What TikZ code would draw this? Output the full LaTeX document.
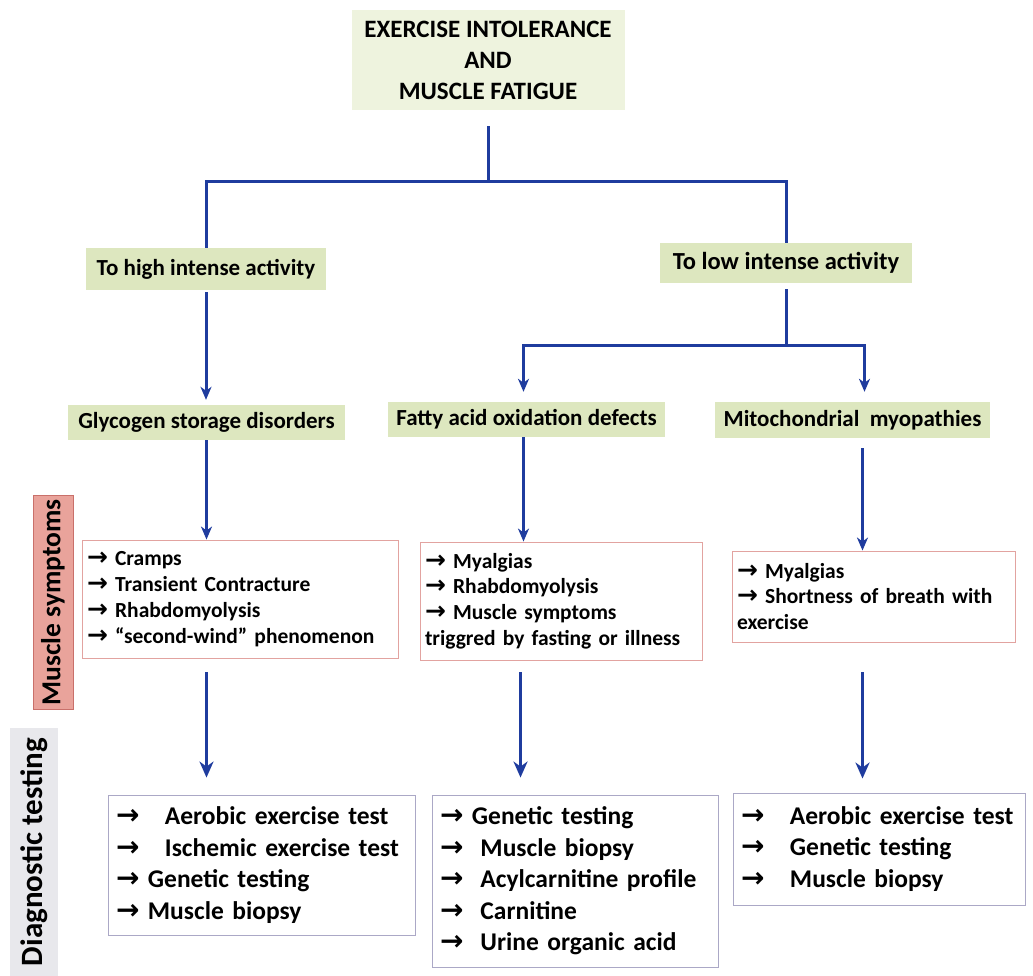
\documentclass[tikz,border=0pt]{standalone}
\usepackage{fontspec}
\setmainfont{Carlito}
\newfontfamily\arrowfont{DejaVu Sans}
\usetikzlibrary{arrows.meta, positioning}
\definecolor{flowblue}{HTML}{1F3C9E}
\definecolor{headgreen}{HTML}{EEF3DE}
\definecolor{levelgreen}{HTML}{DDE7BF}
\definecolor{symred}{HTML}{E2A3A0}
\definecolor{diaggray}{HTML}{ABA8C6}
\definecolor{muscfill}{HTML}{E9A39B}
\definecolor{muscdraw}{HTML}{C9706A}
\definecolor{testfill}{HTML}{E8E8EC}
\newcommand{\symarr}{{\arrowfont\bfseries\fontsize{25}{25}\selectfont →}\ }
\newcommand{\diagarr}{{\arrowfont\fontsize{28}{28}\selectfont →}\ }
\tikzset{
  blk/.style={rectangle, inner sep=4pt, font=\bfseries},
  headb/.style={blk, fill=headgreen, align=center, minimum width=273pt,
                minimum height=100pt, font=\bfseries\fontsize{25}{31}\selectfont},
  levelb/.style={blk, fill=levelgreen, align=center, font=\bfseries\fontsize{23}{25}\selectfont},
  symb/.style={blk, draw=symred, line width=0.9pt, fill=white, align=left,
               inner xsep=5pt, font=\bfseries\fontsize{21.5}{25.8}\selectfont},
  diagb/.style={blk, draw=diaggray, line width=0.9pt, fill=white, align=left,
                inner xsep=8pt, font=\bfseries\fontsize{25.5}{31.5}\selectfont},
  sideb/.style={blk, rotate=90, align=center},
  conn/.style={line width=3pt, draw=flowblue},
  arr/.style={conn, -{Stealth[length=13pt, width=11pt, inset=4pt]}},
  bigarr/.style={line width=3.4pt, draw=flowblue, -{Stealth[length=16pt, width=14pt, inset=5pt]}},
}
\begin{document}
\begin{tikzpicture}[x=1pt, y=-1pt]
  \useasboundingbox (0,0) rectangle (1033,976);
  % headline and the two branches
  \node[headb] (top) at (488,60) {EXERCISE INTOLERANCE\\AND\\MUSCLE FATIGUE};
  \node[levelb, minimum width=240pt, minimum height=42pt] (high) at (206,269) {To high intense activity};
  \node[levelb, minimum width=252pt, minimum height=40pt, font=\bfseries\fontsize{24.5}{26}\selectfont] (low) at (786,263) {To low intense activity};
  % disorder groups
  \node[levelb, minimum width=277pt, minimum height=35pt] (glyco) at (206.5,422.5) {Glycogen storage disorders};
  \node[levelb, minimum width=277pt, minimum height=35pt] (fatty) at (526.5,419.5) {Fatty acid oxidation defects};
  \node[levelb, minimum width=275pt, minimum height=36pt] (mito) at (852.5,420) {Mitochondrial\ \ myopathies};
  % muscle symptoms
  \node[symb, text width=306pt, minimum height=118pt] (symL) at (240,599)
    {\symarr Cramps\\\symarr Transient Contracture\\\symarr Rhabdomyolysis\\\symarr “second-wind” phenomenon};
  \node[symb, text width=272pt, minimum height=118pt] (symM) at (561,601)
    {\symarr Myalgias\\\symarr Rhabdomyolysis\\\symarr Muscle symptoms\\triggred by fasting or illness};
  \node[symb, text width=273pt, minimum height=91pt] (symR) at (873.5,596.5)
    {\symarr Myalgias\\\symarr Shortness of breath with\\exercise};
  % diagnostic testing
  \node[diagb, text width=291pt, minimum height=140pt] (diagL) at (261.5,865)
    {\diagarr\ \ Aerobic exercise test\\\diagarr\ \ Ischemic exercise test\\\diagarr Genetic testing\\\diagarr Muscle biopsy};
  \node[diagb, text width=270pt, minimum height=172pt] (diagM) at (575,881)
    {\diagarr Genetic testing\\\diagarr\ Muscle biopsy\\\diagarr\ Acylcarnitine profile\\\diagarr\ Carnitine\\\diagarr\ Urine organic acid};
  \node[diagb, text width=276pt, minimum height=112pt] (diagR) at (879,849)
    {\diagarr\ \ Aerobic exercise test\\\diagarr\ \ Genetic testing\\\diagarr\ \ Muscle biopsy};
  % row labels
  \node[sideb, fill=muscfill, draw=muscdraw, line width=0.6pt, minimum width=211pt, minimum height=40pt,
        font=\bfseries\fontsize{27.5}{29}\selectfont] (musc) at (53,602.5) {Muscle symptoms};
  \node[sideb, fill=testfill, minimum width=248pt, minimum height=48pt,
        font=\bfseries\fontsize{31}{33}\selectfont] (tests) at (34,852) {Diagnostic testing};
  % connectors
  \coordinate (split1) at (488,182);
  \coordinate (split2) at (786,345);
  \draw[conn, shorten <=16pt] (top.south) -- (split1);
  \draw[conn] (split1) -| (high.north);
  \draw[conn] (split1) -| (low.north);
  \draw[arr, shorten <=2pt, shorten >=5pt] (high.south) -- (high.south |- glyco.north);
  \draw[conn, shorten <=6pt] (low.south) -- (split2);
  \draw[arr, shorten >=10pt] (split2) -| ([xshift=-3pt]fatty.north);
  \draw[arr, shorten >=10pt] (split2) -| ([xshift=12pt]mito.north);
  \draw[arr] (glyco.south) -- (glyco.south |- symL.north);
  \draw[arr] ([xshift=-3pt]fatty.south) -- ([xshift=-3pt]fatty.south |- symM.north);
  \draw[arr, shorten <=10pt] ([xshift=10pt]mito.south) -- ([xshift=10pt]mito.south |- symR.north);
  \draw[bigarr, shorten <=14pt, shorten >=17pt] (glyco.south |- symL.south) -- (glyco.south |- diagL.north);
  \draw[bigarr, shorten <=12pt, shorten >=17pt] ([xshift=-6pt]fatty.south |- symM.south) -- ([xshift=-6pt]fatty.south |- diagM.north);
  \draw[bigarr, shorten <=30pt, shorten >=14pt] ([xshift=10pt]mito.south |- symR.south) -- ([xshift=10pt]mito.south |- diagR.north);
\end{tikzpicture}
\end{document}
